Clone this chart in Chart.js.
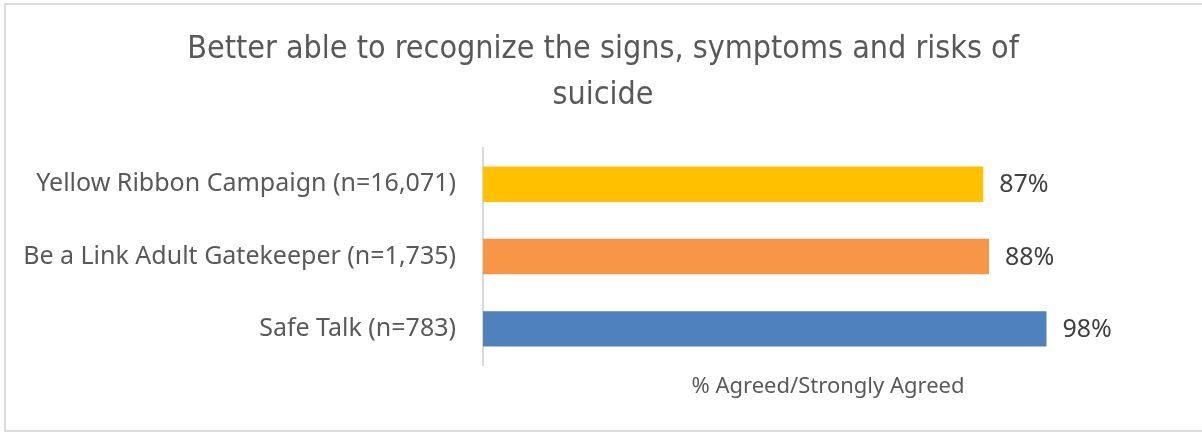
<!DOCTYPE html>
<html>
<head>
<meta charset="utf-8">
<script src="https://cdn.jsdelivr.net/npm/chart.js@4/dist/chart.umd.min.js"></script>
<style>
  body { margin: 0; background: #fff; }
  #frame { position: absolute; left: 4px; top: 3px; width: 1210px; height: 429px; border: 2px solid #dcdcdc; box-sizing: border-box; }
  #wrap { position: absolute; left: 0; top: 0; width: 1202px; height: 435px; }
</style>
</head>
<body>
<div id="frame"></div>
<div id="wrap"><canvas id="agreeChart" width="1202" height="435"></canvas></div>
<script>
// data
var programs = ["Yellow Ribbon Campaign (n=16,071)", "Be a Link Adult Gatekeeper (n=1,735)", "Safe Talk (n=783)"];
var pctAgreed = [87, 88, 98];
var barColors = ["#FFC000", "#F79646", "#4F81BD"];
var chartTitle = ["Better able to recognize the signs, symptoms and risks of", "suicide"];
var axisTitle = "% Agreed/Strongly Agreed";

// small plugin to write the % at the end of each bar
// (also nudges the title box so it is centred like the excel one)
var barValueLabels = {
    id: 'barValueLabels',
    afterLayout: function(chart) {
        if (chart.titleBlock) chart.titleBlock.left = 33;
    },
    afterDatasetsDraw: function(chart) {
        var ctx = chart.ctx;
        var meta = chart.getDatasetMeta(0);
        ctx.save();
        ctx.font = '25px "Noto Sans", sans-serif';
        ctx.fillStyle = '#404040';
        ctx.textAlign = 'left';
        ctx.textBaseline = 'middle';
        meta.data.forEach(function(bar, i) {
            ctx.fillText(pctAgreed[i] + '%', bar.x + 16, bar.y + 1);
        });
        ctx.restore();
    }
};

var ctx = document.getElementById("agreeChart").getContext('2d');
var myBarChart = new Chart(ctx, {
    type: 'bar',
    data: {
        labels: programs,
        datasets: [{
            data: pctAgreed,
            backgroundColor: barColors,
            borderWidth: 0,
            categoryPercentage: 1.0,
            barPercentage: 0.49
        }]
    },
    options: {
        indexAxis: 'y',
        responsive: false,
        animation: false,
        layout: { padding: { left: 0, right: 29, top: 0, bottom: 0 } },
        plugins: {
            legend: { display: false },
            tooltip: { enabled: false },
            title: {
                display: true,
                text: chartTitle,
                color: '#595959',
                font: { family: '"Liberation Sans Narrow", "DejaVu Sans Condensed", sans-serif', size: 32, weight: 'normal', lineHeight: 1.44 },
                padding: { top: 27, bottom: 29 }
            }
        },
        scales: {
            x: {
                min: 0,
                max: 120,
                ticks: { display: false },
                grid: { display: false },
                border: { display: false },
                title: {
                    display: true,
                    text: axisTitle,
                    color: '#595959',
                    font: { family: '"Noto Sans", sans-serif', size: 22 },
                    padding: { top: 0, bottom: 35 }
                },
                afterFit: function(scale) { scale.height = 70; }
            },
            y: {
                grid: { display: false, drawTicks: false },
                border: { display: true, color: '#d9d9d9', width: 2 },
                ticks: {
                    color: '#595959',
                    padding: 27,
                    font: { family: '"Noto Sans", sans-serif', size: 25 }
                },
                afterFit: function(scale) { scale.width = 483; }
            }
        }
    },
    plugins: [barValueLabels]
});
</script>
</body>
</html>
